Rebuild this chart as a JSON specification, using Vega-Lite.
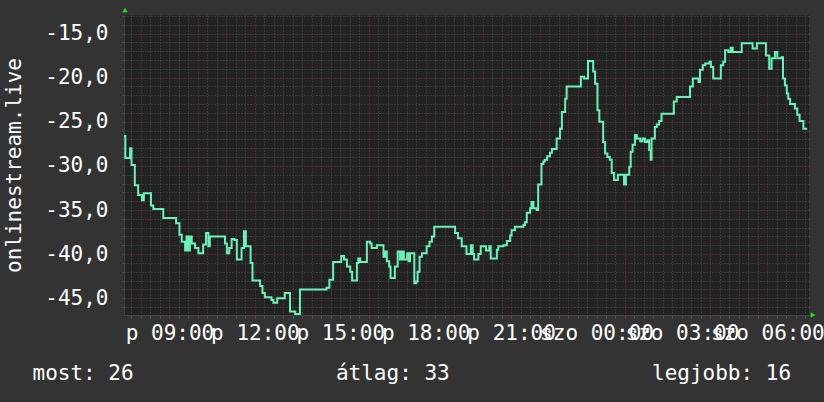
{
  "$schema": "https://vega.github.io/schema/vega-lite/v6.json",
  "width": 685,
  "height": 300,
  "autosize": {"type": "none"},
  "padding": {"left": 124, "top": 15, "right": 15, "bottom": 87},
  "background": "#333333",
  "view": {"fill": "#222222", "stroke": null},
  "config": {"font": "DejaVu Sans Mono"},
  "title": {
    "text": "most: 26\u00a0\u00a0\u00a0\u00a0\u00a0\u00a0\u00a0\u00a0\u00a0\u00a0\u00a0\u00a0\u00a0\u00a0\u00a0\u00a0átlag: 33\u00a0\u00a0\u00a0\u00a0\u00a0\u00a0\u00a0\u00a0\u00a0\u00a0\u00a0\u00a0\u00a0\u00a0\u00a0\u00a0legjobb: 16",
    "orient": "bottom",
    "anchor": "start",
    "frame": "group",
    "dx": -91.5,
    "offset": 20,
    "font": "DejaVu Sans Mono",
    "fontSize": 21,
    "fontWeight": "normal",
    "color": "#ffffff"
  },
  "resolve": {"axis": {"x": "independent", "y": "independent"}},
  "layer": [
    {
      "data": {
        "values": [
          {"t": "2024-03-01T07:24:00", "v": -26.6},
          {"t": "2024-03-01T07:27:00", "v": -29.1},
          {"t": "2024-03-01T07:37:00", "v": -28.0},
          {"t": "2024-03-01T07:40:00", "v": -29.9},
          {"t": "2024-03-01T07:47:00", "v": -32.2},
          {"t": "2024-03-01T07:54:00", "v": -33.3},
          {"t": "2024-03-01T08:02:00", "v": -33.9},
          {"t": "2024-03-01T08:06:00", "v": -33.1},
          {"t": "2024-03-01T08:21:00", "v": -34.5},
          {"t": "2024-03-01T08:26:00", "v": -34.9},
          {"t": "2024-03-01T08:47:00", "v": -35.9},
          {"t": "2024-03-01T09:14:00", "v": -36.5},
          {"t": "2024-03-01T09:21:00", "v": -37.8},
          {"t": "2024-03-01T09:26:00", "v": -38.6},
          {"t": "2024-03-01T09:33:00", "v": -39.6},
          {"t": "2024-03-01T09:36:00", "v": -38.0},
          {"t": "2024-03-01T09:40:00", "v": -39.6},
          {"t": "2024-03-01T09:43:00", "v": -38.0},
          {"t": "2024-03-01T09:47:00", "v": -38.8},
          {"t": "2024-03-01T09:54:00", "v": -39.3},
          {"t": "2024-03-01T10:01:00", "v": -39.9},
          {"t": "2024-03-01T10:11:00", "v": -38.9},
          {"t": "2024-03-01T10:17:00", "v": -37.6},
          {"t": "2024-03-01T10:22:00", "v": -39.1},
          {"t": "2024-03-01T10:25:00", "v": -38.0},
          {"t": "2024-03-01T10:57:00", "v": -38.8},
          {"t": "2024-03-01T11:01:00", "v": -39.9},
          {"t": "2024-03-01T11:06:00", "v": -39.3},
          {"t": "2024-03-01T11:11:00", "v": -38.3},
          {"t": "2024-03-01T11:17:00", "v": -38.4},
          {"t": "2024-03-01T11:22:00", "v": -40.6},
          {"t": "2024-03-01T11:32:00", "v": -39.3},
          {"t": "2024-03-01T11:37:00", "v": -37.4},
          {"t": "2024-03-01T11:41:00", "v": -39.1},
          {"t": "2024-03-01T11:51:00", "v": -41.0},
          {"t": "2024-03-01T11:55:00", "v": -43.0},
          {"t": "2024-03-01T12:11:00", "v": -43.6},
          {"t": "2024-03-01T12:16:00", "v": -44.4},
          {"t": "2024-03-01T12:21:00", "v": -44.9},
          {"t": "2024-03-01T12:35:00", "v": -45.2},
          {"t": "2024-03-01T12:39:00", "v": -45.5},
          {"t": "2024-03-01T12:47:00", "v": -45.0},
          {"t": "2024-03-01T13:03:00", "v": -44.4},
          {"t": "2024-03-01T13:14:00", "v": -46.5},
          {"t": "2024-03-01T13:25:00", "v": -46.8},
          {"t": "2024-03-01T13:35:00", "v": -44.0},
          {"t": "2024-03-01T14:31:00", "v": -43.8},
          {"t": "2024-03-01T14:37:00", "v": -42.9},
          {"t": "2024-03-01T14:45:00", "v": -40.9},
          {"t": "2024-03-01T15:02:00", "v": -40.2},
          {"t": "2024-03-01T15:08:00", "v": -40.6},
          {"t": "2024-03-01T15:14:00", "v": -41.4},
          {"t": "2024-03-01T15:21:00", "v": -42.0},
          {"t": "2024-03-01T15:25:00", "v": -43.0},
          {"t": "2024-03-01T15:35:00", "v": -41.0},
          {"t": "2024-03-01T15:38:00", "v": -40.5},
          {"t": "2024-03-01T15:42:00", "v": -40.9},
          {"t": "2024-03-01T15:56:00", "v": -38.6},
          {"t": "2024-03-01T16:03:00", "v": -38.8},
          {"t": "2024-03-01T16:06:00", "v": -39.3},
          {"t": "2024-03-01T16:17:00", "v": -39.0},
          {"t": "2024-03-01T16:31:00", "v": -40.3},
          {"t": "2024-03-01T16:34:00", "v": -39.7},
          {"t": "2024-03-01T16:38:00", "v": -40.8},
          {"t": "2024-03-01T16:43:00", "v": -41.4},
          {"t": "2024-03-01T16:46:00", "v": -42.7},
          {"t": "2024-03-01T16:55:00", "v": -41.4},
          {"t": "2024-03-01T17:01:00", "v": -39.7},
          {"t": "2024-03-01T17:06:00", "v": -40.6},
          {"t": "2024-03-01T17:10:00", "v": -39.7},
          {"t": "2024-03-01T17:14:00", "v": -40.6},
          {"t": "2024-03-01T17:21:00", "v": -39.9},
          {"t": "2024-03-01T17:24:00", "v": -40.8},
          {"t": "2024-03-01T17:27:00", "v": -39.9},
          {"t": "2024-03-01T17:36:00", "v": -43.3},
          {"t": "2024-03-01T17:40:00", "v": -43.1},
          {"t": "2024-03-01T17:43:00", "v": -42.0},
          {"t": "2024-03-01T17:47:00", "v": -40.3},
          {"t": "2024-03-01T17:52:00", "v": -39.9},
          {"t": "2024-03-01T18:02:00", "v": -39.1},
          {"t": "2024-03-01T18:08:00", "v": -38.6},
          {"t": "2024-03-01T18:13:00", "v": -38.0},
          {"t": "2024-03-01T18:18:00", "v": -36.9},
          {"t": "2024-03-01T19:02:00", "v": -37.6},
          {"t": "2024-03-01T19:08:00", "v": -38.2},
          {"t": "2024-03-01T19:16:00", "v": -39.1},
          {"t": "2024-03-01T19:26:00", "v": -40.0},
          {"t": "2024-03-01T19:35:00", "v": -39.0},
          {"t": "2024-03-01T19:39:00", "v": -40.0},
          {"t": "2024-03-01T19:42:00", "v": -40.6},
          {"t": "2024-03-01T19:51:00", "v": -40.0},
          {"t": "2024-03-01T19:56:00", "v": -39.1},
          {"t": "2024-03-01T20:07:00", "v": -39.6},
          {"t": "2024-03-01T20:14:00", "v": -39.1},
          {"t": "2024-03-01T20:17:00", "v": -40.5},
          {"t": "2024-03-01T20:30:00", "v": -39.5},
          {"t": "2024-03-01T20:33:00", "v": -39.1},
          {"t": "2024-03-01T20:44:00", "v": -39.0},
          {"t": "2024-03-01T20:51:00", "v": -38.5},
          {"t": "2024-03-01T20:58:00", "v": -37.9},
          {"t": "2024-03-01T21:01:00", "v": -37.3},
          {"t": "2024-03-01T21:08:00", "v": -36.9},
          {"t": "2024-03-01T21:26:00", "v": -36.7},
          {"t": "2024-03-01T21:29:00", "v": -36.4},
          {"t": "2024-03-01T21:33:00", "v": -35.3},
          {"t": "2024-03-01T21:40:00", "v": -34.8},
          {"t": "2024-03-01T21:43:00", "v": -34.1},
          {"t": "2024-03-01T21:47:00", "v": -34.8},
          {"t": "2024-03-01T21:54:00", "v": -35.0},
          {"t": "2024-03-01T21:57:00", "v": -32.1},
          {"t": "2024-03-01T22:04:00", "v": -29.8},
          {"t": "2024-03-01T22:08:00", "v": -29.5},
          {"t": "2024-03-01T22:11:00", "v": -29.3},
          {"t": "2024-03-01T22:16:00", "v": -28.9},
          {"t": "2024-03-01T22:22:00", "v": -28.5},
          {"t": "2024-03-01T22:26:00", "v": -28.1},
          {"t": "2024-03-01T22:36:00", "v": -26.9},
          {"t": "2024-03-01T22:43:00", "v": -25.8},
          {"t": "2024-03-01T22:47:00", "v": -23.9},
          {"t": "2024-03-01T22:54:00", "v": -22.4},
          {"t": "2024-03-01T22:57:00", "v": -21.0},
          {"t": "2024-03-01T23:27:00", "v": -19.9},
          {"t": "2024-03-01T23:34:00", "v": -20.1},
          {"t": "2024-03-01T23:42:00", "v": -18.1},
          {"t": "2024-03-01T23:53:00", "v": -19.3},
          {"t": "2024-03-01T23:57:00", "v": -20.7},
          {"t": "2024-03-02T00:02:00", "v": -23.7},
          {"t": "2024-03-02T00:06:00", "v": -25.0},
          {"t": "2024-03-02T00:14:00", "v": -27.3},
          {"t": "2024-03-02T00:18:00", "v": -28.6},
          {"t": "2024-03-02T00:23:00", "v": -29.0},
          {"t": "2024-03-02T00:28:00", "v": -29.3},
          {"t": "2024-03-02T00:32:00", "v": -30.8},
          {"t": "2024-03-02T00:37:00", "v": -31.6},
          {"t": "2024-03-02T00:45:00", "v": -31.0},
          {"t": "2024-03-02T00:58:00", "v": -32.1},
          {"t": "2024-03-02T01:02:00", "v": -31.0},
          {"t": "2024-03-02T01:09:00", "v": -30.1},
          {"t": "2024-03-02T01:12:00", "v": -28.4},
          {"t": "2024-03-02T01:16:00", "v": -27.6},
          {"t": "2024-03-02T01:21:00", "v": -26.5},
          {"t": "2024-03-02T01:25:00", "v": -26.9},
          {"t": "2024-03-02T01:32:00", "v": -27.2},
          {"t": "2024-03-02T01:37:00", "v": -26.9},
          {"t": "2024-03-02T01:42:00", "v": -27.3},
          {"t": "2024-03-02T01:47:00", "v": -27.1},
          {"t": "2024-03-02T01:51:00", "v": -28.2},
          {"t": "2024-03-02T01:54:00", "v": -29.3},
          {"t": "2024-03-02T01:56:00", "v": -26.9},
          {"t": "2024-03-02T02:03:00", "v": -25.6},
          {"t": "2024-03-02T02:07:00", "v": -25.3},
          {"t": "2024-03-02T02:12:00", "v": -24.9},
          {"t": "2024-03-02T02:17:00", "v": -24.1},
          {"t": "2024-03-02T02:43:00", "v": -22.7},
          {"t": "2024-03-02T02:49:00", "v": -22.2},
          {"t": "2024-03-02T03:17:00", "v": -21.0},
          {"t": "2024-03-02T03:23:00", "v": -20.1},
          {"t": "2024-03-02T03:35:00", "v": -20.5},
          {"t": "2024-03-02T03:38:00", "v": -19.1},
          {"t": "2024-03-02T03:44:00", "v": -18.6},
          {"t": "2024-03-02T03:49:00", "v": -18.4},
          {"t": "2024-03-02T03:58:00", "v": -18.2},
          {"t": "2024-03-02T04:01:00", "v": -18.8},
          {"t": "2024-03-02T04:06:00", "v": -20.1},
          {"t": "2024-03-02T04:22:00", "v": -18.6},
          {"t": "2024-03-02T04:27:00", "v": -18.2},
          {"t": "2024-03-02T04:31:00", "v": -16.9},
          {"t": "2024-03-02T04:38:00", "v": -17.1},
          {"t": "2024-03-02T04:43:00", "v": -16.6},
          {"t": "2024-03-02T04:47:00", "v": -17.1},
          {"t": "2024-03-02T05:06:00", "v": -16.1},
          {"t": "2024-03-02T05:29:00", "v": -16.7},
          {"t": "2024-03-02T05:38:00", "v": -16.1},
          {"t": "2024-03-02T05:57:00", "v": -17.5},
          {"t": "2024-03-02T06:04:00", "v": -19.0},
          {"t": "2024-03-02T06:09:00", "v": -17.8},
          {"t": "2024-03-02T06:16:00", "v": -17.1},
          {"t": "2024-03-02T06:21:00", "v": -17.8},
          {"t": "2024-03-02T06:30:00", "v": -17.7},
          {"t": "2024-03-02T06:33:00", "v": -20.1},
          {"t": "2024-03-02T06:37:00", "v": -20.9},
          {"t": "2024-03-02T06:41:00", "v": -21.8},
          {"t": "2024-03-02T06:44:00", "v": -22.4},
          {"t": "2024-03-02T06:48:00", "v": -23.0},
          {"t": "2024-03-02T06:58:00", "v": -23.5},
          {"t": "2024-03-02T07:03:00", "v": -24.2},
          {"t": "2024-03-02T07:08:00", "v": -24.9},
          {"t": "2024-03-02T07:16:00", "v": -25.8},
          {"t": "2024-03-02T07:24:00", "v": -25.8}
        ]
      },
      "mark": {"type": "line", "interpolate": "step-after", "color": "#6cf2b6", "strokeWidth": 2, "clip": true},
      "encoding": {
        "x": {
          "field": "t",
          "type": "temporal",
          "scale": {"domain": [
            {"year": 2024, "month": 3, "date": 1, "hours": 7, "minutes": 24, "seconds": 12},
            {"year": 2024, "month": 3, "date": 2, "hours": 7, "minutes": 27, "seconds": 48}
          ]},
          "axis": {
            "title": null,
            "values": [
              {"year": 2024, "month": 3, "date": 1, "hours": 7, "minutes": 40},
              {"year": 2024, "month": 3, "date": 1, "hours": 8, "minutes": 0},
              {"year": 2024, "month": 3, "date": 1, "hours": 8, "minutes": 20},
              {"year": 2024, "month": 3, "date": 1, "hours": 8, "minutes": 40},
              {"year": 2024, "month": 3, "date": 1, "hours": 9, "minutes": 0},
              {"year": 2024, "month": 3, "date": 1, "hours": 9, "minutes": 20},
              {"year": 2024, "month": 3, "date": 1, "hours": 9, "minutes": 40},
              {"year": 2024, "month": 3, "date": 1, "hours": 10, "minutes": 0},
              {"year": 2024, "month": 3, "date": 1, "hours": 10, "minutes": 20},
              {"year": 2024, "month": 3, "date": 1, "hours": 10, "minutes": 40},
              {"year": 2024, "month": 3, "date": 1, "hours": 11, "minutes": 0},
              {"year": 2024, "month": 3, "date": 1, "hours": 11, "minutes": 20},
              {"year": 2024, "month": 3, "date": 1, "hours": 11, "minutes": 40},
              {"year": 2024, "month": 3, "date": 1, "hours": 12, "minutes": 0},
              {"year": 2024, "month": 3, "date": 1, "hours": 12, "minutes": 20},
              {"year": 2024, "month": 3, "date": 1, "hours": 12, "minutes": 40},
              {"year": 2024, "month": 3, "date": 1, "hours": 13, "minutes": 0},
              {"year": 2024, "month": 3, "date": 1, "hours": 13, "minutes": 20},
              {"year": 2024, "month": 3, "date": 1, "hours": 13, "minutes": 40},
              {"year": 2024, "month": 3, "date": 1, "hours": 14, "minutes": 0},
              {"year": 2024, "month": 3, "date": 1, "hours": 14, "minutes": 20},
              {"year": 2024, "month": 3, "date": 1, "hours": 14, "minutes": 40},
              {"year": 2024, "month": 3, "date": 1, "hours": 15, "minutes": 0},
              {"year": 2024, "month": 3, "date": 1, "hours": 15, "minutes": 20},
              {"year": 2024, "month": 3, "date": 1, "hours": 15, "minutes": 40},
              {"year": 2024, "month": 3, "date": 1, "hours": 16, "minutes": 0},
              {"year": 2024, "month": 3, "date": 1, "hours": 16, "minutes": 20},
              {"year": 2024, "month": 3, "date": 1, "hours": 16, "minutes": 40},
              {"year": 2024, "month": 3, "date": 1, "hours": 17, "minutes": 0},
              {"year": 2024, "month": 3, "date": 1, "hours": 17, "minutes": 20},
              {"year": 2024, "month": 3, "date": 1, "hours": 17, "minutes": 40},
              {"year": 2024, "month": 3, "date": 1, "hours": 18, "minutes": 0},
              {"year": 2024, "month": 3, "date": 1, "hours": 18, "minutes": 20},
              {"year": 2024, "month": 3, "date": 1, "hours": 18, "minutes": 40},
              {"year": 2024, "month": 3, "date": 1, "hours": 19, "minutes": 0},
              {"year": 2024, "month": 3, "date": 1, "hours": 19, "minutes": 20},
              {"year": 2024, "month": 3, "date": 1, "hours": 19, "minutes": 40},
              {"year": 2024, "month": 3, "date": 1, "hours": 20, "minutes": 0},
              {"year": 2024, "month": 3, "date": 1, "hours": 20, "minutes": 20},
              {"year": 2024, "month": 3, "date": 1, "hours": 20, "minutes": 40},
              {"year": 2024, "month": 3, "date": 1, "hours": 21, "minutes": 0},
              {"year": 2024, "month": 3, "date": 1, "hours": 21, "minutes": 20},
              {"year": 2024, "month": 3, "date": 1, "hours": 21, "minutes": 40},
              {"year": 2024, "month": 3, "date": 1, "hours": 22, "minutes": 0},
              {"year": 2024, "month": 3, "date": 1, "hours": 22, "minutes": 20},
              {"year": 2024, "month": 3, "date": 1, "hours": 22, "minutes": 40},
              {"year": 2024, "month": 3, "date": 1, "hours": 23, "minutes": 0},
              {"year": 2024, "month": 3, "date": 1, "hours": 23, "minutes": 20},
              {"year": 2024, "month": 3, "date": 1, "hours": 23, "minutes": 40},
              {"year": 2024, "month": 3, "date": 2, "hours": 0, "minutes": 0},
              {"year": 2024, "month": 3, "date": 2, "hours": 0, "minutes": 20},
              {"year": 2024, "month": 3, "date": 2, "hours": 0, "minutes": 40},
              {"year": 2024, "month": 3, "date": 2, "hours": 1, "minutes": 0},
              {"year": 2024, "month": 3, "date": 2, "hours": 1, "minutes": 20},
              {"year": 2024, "month": 3, "date": 2, "hours": 1, "minutes": 40},
              {"year": 2024, "month": 3, "date": 2, "hours": 2, "minutes": 0},
              {"year": 2024, "month": 3, "date": 2, "hours": 2, "minutes": 20},
              {"year": 2024, "month": 3, "date": 2, "hours": 2, "minutes": 40},
              {"year": 2024, "month": 3, "date": 2, "hours": 3, "minutes": 0},
              {"year": 2024, "month": 3, "date": 2, "hours": 3, "minutes": 20},
              {"year": 2024, "month": 3, "date": 2, "hours": 3, "minutes": 40},
              {"year": 2024, "month": 3, "date": 2, "hours": 4, "minutes": 0},
              {"year": 2024, "month": 3, "date": 2, "hours": 4, "minutes": 20},
              {"year": 2024, "month": 3, "date": 2, "hours": 4, "minutes": 40},
              {"year": 2024, "month": 3, "date": 2, "hours": 5, "minutes": 0},
              {"year": 2024, "month": 3, "date": 2, "hours": 5, "minutes": 20},
              {"year": 2024, "month": 3, "date": 2, "hours": 5, "minutes": 40},
              {"year": 2024, "month": 3, "date": 2, "hours": 6, "minutes": 0},
              {"year": 2024, "month": 3, "date": 2, "hours": 6, "minutes": 20},
              {"year": 2024, "month": 3, "date": 2, "hours": 6, "minutes": 40},
              {"year": 2024, "month": 3, "date": 2, "hours": 7, "minutes": 0},
              {"year": 2024, "month": 3, "date": 2, "hours": 7, "minutes": 20}
            ],
            "grid": true,
            "gridColor": {"condition": {"test": "minutes(datum.value) == 0", "value": "#7a3535"}, "value": "#4e4e4e"},
            "gridDash": [1, 2],
            "gridWidth": 1,
            "ticks": true,
            "tickSize": 3,
            "tickColor": {"condition": {"test": "minutes(datum.value) == 0", "value": "#8a3a3a"}, "value": "#555555"},
            "domain": true,
            "domainColor": "#444444",
            "labelExpr": "hours(datum.value) % 3 == 0 && minutes(datum.value) == 0 ? (day(datum.value) == 5 ? 'p ' : 'szo ') + timeFormat(datum.value, '%H:%M') : ''",
            "labelOverlap": false,
            "labelBound": false,
            "labelFlush": false,
            "labelFont": "DejaVu Sans Mono",
            "labelFontSize": 21,
            "labelColor": "#ffffff",
            "labelBaseline": "alphabetic",
            "labelPadding": 21
          }
        },
        "y": {
          "field": "v",
          "type": "quantitative",
          "scale": {"domain": [-46.9, -12.9], "nice": false, "zero": false},
          "axis": {
            "title": "onlinestream.live",
            "titleFont": "DejaVu Sans Mono",
            "titleFontSize": 21,
            "titleFontWeight": "normal",
            "titleColor": "#ffffff",
            "titlePadding": 20,
            "values": [-46, -45, -44, -43, -42, -41, -40, -39, -38, -37, -36, -35, -34, -33, -32, -31, -30, -29, -28, -27, -26, -25, -24, -23, -22, -21, -20, -19, -18, -17, -16, -15, -14, -13],
            "grid": true,
            "gridColor": {"condition": {"test": "datum.value % 5 == 0", "value": "#7a3535"}, "value": "#4e4e4e"},
            "gridDash": [1, 2],
            "gridWidth": 1,
            "ticks": true,
            "tickSize": 2,
            "tickColor": {"condition": {"test": "datum.value % 5 == 0", "value": "#8a3a3a"}, "value": "#555555"},
            "domain": true,
            "domainColor": "#444444",
            "labelExpr": "datum.value % 5 == 0 ? datum.value + ',0' : ''",
            "labelOverlap": false,
            "labelBound": false,
            "labelFlush": false,
            "labelFont": "DejaVu Sans Mono",
            "labelFontSize": 21,
            "labelColor": "#ffffff",
            "labelPadding": 14
          }
        }
      }
    },
    {
      "data": {"values": [{"a": 1}]},
      "mark": {"type": "point", "shape": "triangle-up", "filled": true, "color": "#1ee01e", "opacity": 1, "size": 28, "yOffset": -5, "xOffset": 1, "clip": false},
      "encoding": {
        "x": {"datum": {"year": 2024, "month": 3, "date": 1, "hours": 7, "minutes": 24, "seconds": 12}, "type": "temporal", "axis": null},
        "y": {"datum": -12.9, "type": "quantitative", "axis": null}
      }
    },
    {
      "data": {"values": [{"a": 1}]},
      "mark": {"type": "point", "shape": "triangle-right", "filled": true, "color": "#1ee01e", "opacity": 1, "size": 28, "xOffset": 4, "clip": false},
      "encoding": {
        "x": {"datum": {"year": 2024, "month": 3, "date": 2, "hours": 7, "minutes": 27, "seconds": 48}, "type": "temporal", "axis": null},
        "y": {"datum": -46.9, "type": "quantitative", "axis": null}
      }
    }
  ]
}
